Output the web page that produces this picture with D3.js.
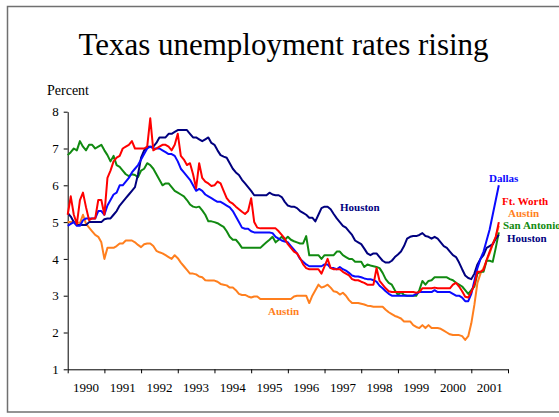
<!DOCTYPE html>
<html>
<head>
<meta charset="utf-8">
<script src="https://d3js.org/d3.v7.min.js"></script>
<style>
  body { margin: 0; background: #fff; }
  svg { display: block; font-family: "Liberation Serif", "Times New Roman", serif; }
  .axis path, .axis line { stroke: #000; stroke-width: 1; }
  .axis text { font-size: 13px; fill: #000; font-family: "Liberation Serif", serif; }
  .lbl { font-size: 11px; font-weight: bold; }
</style>
</head>
<body>
<svg id="chart" width="559" height="417"></svg>
<script>
// monthly rates, Jan 1990 .. Oct 2001
const startYear = 1990
const years = [1990, 1991, 1992, 1993, 1994, 1995, 1996, 1997, 1998, 1999, 2000, 2001]
const yTicks = [1, 2, 3, 4, 5, 6, 7, 8]

const dallas = [
  4.9, 4.95, 5.0, 4.9, 4.9, 5.05, 5.1, 5.1, 5.1, 5.1, 5.3, 5.3,
  5.2, 5.45, 5.6, 5.75, 5.8, 6.0, 6.0, 6.1, 6.2, 6.35, 6.45, 6.55,
  6.7, 6.85, 7.0, 7.05, 7.0, 7.0, 7.0, 6.95, 6.9, 6.85, 6.85, 6.8,
  6.65, 6.45, 6.35, 6.25, 6.15, 6.0, 5.85, 5.9, 5.85, 5.75, 5.7, 5.65,
  5.6, 5.55, 5.55, 5.5, 5.45, 5.4, 5.3, 5.15, 5.0, 4.85, 4.82, 4.82,
  4.75, 4.72, 4.72, 4.72, 4.72, 4.72, 4.72, 4.7, 4.6, 4.55, 4.5, 4.47,
  4.45, 4.35, 4.25, 4.15, 4.0, 3.92, 3.85, 3.8, 3.8, 3.8, 3.8, 3.8,
  3.85, 3.85, 3.75, 3.75, 3.72, 3.78, 3.72, 3.68, 3.62, 3.55, 3.52, 3.52,
  3.5, 3.47, 3.45, 3.45, 3.42, 3.38, 3.27, 3.2, 3.12, 3.05, 3.0, 3.0,
  3.0, 3.0, 3.0, 3.0, 3.0, 3.0, 3.05, 3.1, 3.1, 3.1, 3.1, 3.1,
  3.15, 3.1, 3.1, 3.1, 3.1, 3.1, 3.05, 3.0, 3.0, 2.95, 2.85, 2.85,
  3.05, 3.4, 3.75, 4.0, 4.2, 4.5, 4.8, 5.2, 5.6, 6.0
]
const ftWorth = [
  5.2, 5.7, 5.2, 4.95, 5.6, 5.8, 5.4, 5.05, 5.1, 5.1, 5.6, 5.6,
  5.2, 6.2, 6.4, 6.65, 6.75, 6.8, 7.0, 7.05, 7.1, 7.2, 7.0, 7.0,
  7.0, 7.0, 7.05, 7.82, 6.95, 7.0, 7.05, 7.1, 7.1, 7.05, 6.95, 7.1,
  7.4, 6.8, 6.7, 6.55, 6.6, 6.3, 5.92, 6.6, 6.2, 6.1, 6.05, 5.98,
  6.0, 6.1, 6.05, 5.85, 5.65, 5.55, 5.5, 5.42, 5.35, 5.28, 5.22, 5.3,
  5.65, 5.0, 4.85, 4.83, 4.83, 4.83, 4.83, 4.83, 4.83, 4.75, 4.65, 4.55,
  4.4, 4.3, 4.2, 4.15, 4.02, 3.85, 3.75, 3.72, 3.72, 3.72, 3.72, 3.6,
  3.8, 4.0, 3.75, 3.72, 3.72, 3.72, 3.65, 3.6, 3.55, 3.45, 3.42, 3.42,
  3.38, 3.35, 3.3, 3.3, 3.3, 3.75, 3.4, 3.3, 3.2, 3.12, 3.1, 3.1,
  3.1, 3.1, 3.1, 3.1, 3.1, 3.1, 3.08, 3.1, 3.2, 3.2, 3.2, 3.2,
  3.22, 3.2, 3.2, 3.2, 3.2, 3.2, 3.3, 3.35, 3.25, 3.12, 2.97, 2.95,
  3.1, 3.3, 3.65, 3.65, 3.7, 3.97, 4.2, 4.4, 4.6, 5.0
]
const austin = [
  5.0, 5.0, 5.0, 5.0, 4.97, 5.2, 4.95, 4.85, 4.75, 4.65, 4.6, 4.45,
  4.0, 4.3, 4.3, 4.3, 4.35, 4.42, 4.42, 4.5, 4.5, 4.5, 4.45, 4.38,
  4.32, 4.4, 4.42, 4.42, 4.35, 4.22, 4.18, 4.15, 4.1, 4.05, 4.0, 4.1,
  4.02, 3.9, 3.8, 3.7, 3.6, 3.6, 3.58, 3.52, 3.5, 3.42, 3.41, 3.41,
  3.41, 3.38, 3.32, 3.3, 3.28, 3.22, 3.22, 3.15, 3.05, 3.02, 3.02, 2.98,
  2.95, 2.98, 2.98, 2.91, 2.91, 2.91, 2.91, 2.91, 2.91, 2.91, 2.91, 2.91,
  2.91, 2.91, 2.98, 3.0, 3.0, 3.0, 3.0, 2.8, 3.0, 3.15, 3.3, 3.22,
  3.25, 3.3, 3.22, 3.12, 3.1, 3.03, 3.08, 3.0, 2.88, 2.8, 2.8, 2.8,
  2.78, 2.76, 2.73, 2.72, 2.7, 2.7, 2.7, 2.7, 2.62, 2.55, 2.5, 2.45,
  2.42, 2.38, 2.3, 2.3, 2.3, 2.2, 2.15, 2.12, 2.2, 2.12, 2.2, 2.12,
  2.12, 2.12, 2.1, 2.05, 2.0, 1.95, 1.93, 1.93, 1.93, 1.9, 1.8, 1.9,
  2.25, 2.75, 3.35, 3.6, 3.75, 3.95, 4.15, 4.4, 4.6, 4.9
]
const sanAntonio = [
  6.82, 6.9, 7.0, 6.95, 7.2, 7.05, 6.95, 7.1, 7.1, 7.0, 7.05, 7.1,
  6.95, 6.82, 6.65, 6.8, 6.55, 6.5, 6.4, 6.3, 6.25, 6.3, 6.28, 6.22,
  6.4, 6.45, 6.6, 6.55, 6.45, 6.3, 6.15, 6.0, 6.05, 6.05, 5.95, 5.85,
  5.8, 5.75, 5.7, 5.6, 5.48, 5.42, 5.4, 5.42, 5.32, 5.2, 5.02, 5.02,
  5.0, 4.97, 4.92, 4.87, 4.75, 4.6, 4.52, 4.52, 4.42, 4.3, 4.3, 4.3,
  4.3, 4.3, 4.3, 4.3, 4.38, 4.45, 4.52, 4.6, 4.45, 4.52, 4.6, 4.52,
  4.6, 4.52, 4.48, 4.45, 4.42, 4.42, 4.62, 4.1, 4.1, 4.1, 4.1, 4.0,
  4.1, 4.1, 4.1, 4.1, 4.2, 4.2, 4.1, 4.05, 4.0, 4.0, 3.92, 3.92,
  3.92, 3.78, 3.85, 3.82, 3.8, 3.78, 3.75, 3.62, 3.45, 3.35, 3.3, 3.15,
  3.02, 3.1, 3.02, 3.0, 3.0, 3.0, 3.0, 3.15, 3.4, 3.3, 3.4, 3.42,
  3.5, 3.5, 3.5, 3.5, 3.5, 3.45, 3.42, 3.35, 3.3, 3.25, 3.15, 3.05,
  3.15, 3.25, 3.6, 3.65, 3.65, 3.95, 3.95, 3.92, 4.3, 4.72
]
const houston = [
  5.25, 5.15, 5.0, 4.92, 4.92, 4.92, 4.92, 5.0, 5.0, 5.0, 5.0, 5.0,
  5.08, 5.1, 5.1, 5.2, 5.3, 5.45, 5.55, 5.65, 5.75, 5.85, 5.95, 6.3,
  6.75, 6.95, 7.05, 7.05, 7.05, 7.15, 7.3, 7.3, 7.3, 7.4, 7.4, 7.45,
  7.5, 7.5, 7.5, 7.5, 7.4, 7.3, 7.3, 7.25, 7.2, 7.25, 7.3, 7.15,
  7.1, 6.95, 6.82, 6.78, 6.75, 6.6, 6.45, 6.35, 6.28, 6.15, 6.05, 5.95,
  5.85, 5.73, 5.73, 5.73, 5.73, 5.73, 5.8, 5.75, 5.73, 5.73, 5.68, 5.55,
  5.45, 5.42, 5.42, 5.38, 5.3, 5.25, 5.2, 5.12, 5.12, 5.02, 5.2, 5.38,
  5.42, 5.42, 5.35, 5.22, 5.1, 5.0, 4.9, 4.85, 4.75, 4.65, 4.5, 4.45,
  4.4, 4.28, 4.15, 4.1, 4.15, 4.15, 4.05, 3.95, 3.9, 3.9, 3.95, 4.05,
  4.12, 4.2, 4.35, 4.55, 4.6, 4.62, 4.62, 4.65, 4.7, 4.62, 4.6, 4.55,
  4.6, 4.55, 4.45, 4.35, 4.3, 4.2, 4.1, 4.05, 3.9, 3.72, 3.55, 3.48,
  3.45, 3.6, 3.85, 4.0, 4.1, 4.3, 4.35, 4.4, 4.55, 4.65
]

const series = [
  { name: "Austin", values: austin, color: "#ff7f1e" },
  { name: "San Antonio", values: sanAntonio, color: "#118a11" },
  { name: "Houston", values: houston, color: "#00007f" },
  { name: "Dallas", values: dallas, color: "#0a0aff" },
  { name: "Ft. Worth", values: ftWorth, color: "#ff0000" }
]

// end labels + the two labels inside the plot
const labels = [
  { text: "Dallas", color: "#0a0aff", x: 489, y: 182 },
  { text: "Ft. Worth", color: "#ff0000", x: 502, y: 205 },
  { text: "Austin", color: "#ff7f1e", x: 508, y: 217 },
  { text: "San Antonio", color: "#118a11", x: 503, y: 229 },
  { text: "Houston", color: "#00007f", x: 507, y: 242 },
  { text: "Houston", color: "#00007f", x: 340, y: 211 },
  { text: "Austin", color: "#ff7f1e", x: 268, y: 315 }
]

const serif = "Liberation Serif, Times New Roman, serif"
const svg = d3.select("#chart")

// slide frame
svg.append("rect")
  .attr("x", 7.5).attr("y", 6.5)
  .attr("width", 600).attr("height", 405.5)
  .attr("fill", "#fff")
  .attr("stroke", "#707070")
  .attr("stroke-width", 1.5)

svg.append("text")
  .attr("x", 283.5).attr("y", 55)
  .attr("text-anchor", "middle")
  .style("font-size", "31px")
  .text("Texas unemployment rates rising")

svg.append("text")
  .attr("x", 47).attr("y", 95)
  .style("font-size", "14px")
  .text("Percent")

const x = d3.scaleLinear().domain([1990, 2002]).range([67.7, 508])
const y = d3.scaleLinear().domain([1, 8]).range([369.3, 111.7])

svg.append("g")
  .attr("class", "axis")
  .attr("transform", "translate(67.7,0)")
  .call(d3.axisLeft(y).tickValues(yTicks).tickSize(4).tickSizeOuter(0).tickPadding(5).tickFormat(d3.format("d")))
  .attr("font-family", serif)
  .attr("font-size", 13)

svg.append("g")
  .attr("class", "axis")
  .attr("transform", "translate(0,369.3)")
  .call(d3.axisBottom(x).tickValues(d3.range(1990, 2003)).tickSize(4).tickSizeOuter(0).tickFormat(""))

svg.append("g")
  .attr("class", "axis")
  .attr("font-family", serif)
  .selectAll("text")
  .data(years)
  .enter().append("text")
  .attr("x", d => x(d + 0.5))
  .attr("y", 392)
  .attr("text-anchor", "middle")
  .text(d => d)

const line = d3.line()
  .x((d, i) => x(startYear + i / 12))
  .y(d => y(d))

svg.append("g")
  .selectAll("path")
  .data(series)
  .enter().append("path")
  .attr("d", d => line(d.values))
  .attr("fill", "none")
  .attr("stroke", d => d.color)
  .attr("stroke-width", 2)
  .attr("stroke-linejoin", "round")

svg.append("g")
  .selectAll("text")
  .data(labels)
  .enter().append("text")
  .attr("class", "lbl")
  .attr("x", d => d.x)
  .attr("y", d => d.y)
  .attr("fill", d => d.color)
  .text(d => d.text)
</script>
</body>
</html>
